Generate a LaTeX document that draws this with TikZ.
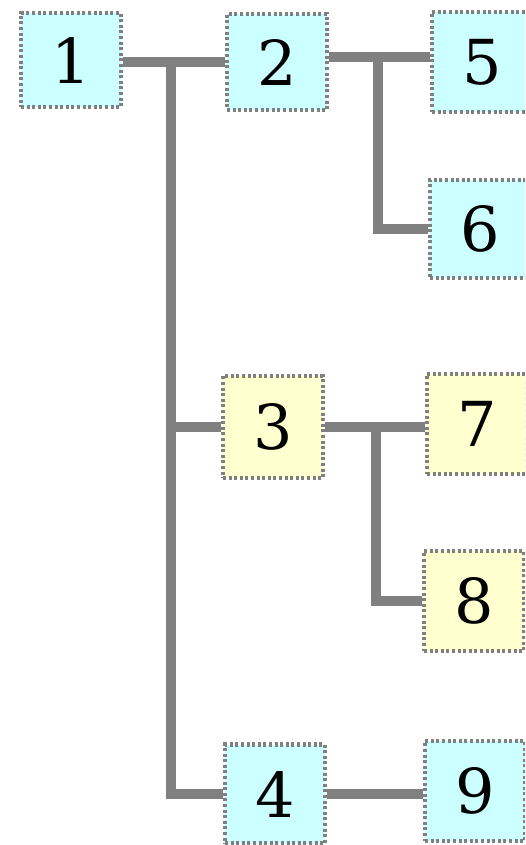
\documentclass[tikz,border=0pt]{standalone}
\usepackage{fontspec}
\setmainfont{DejaVu Serif}
\definecolor{leafcyan}{RGB}{204,255,255}
\definecolor{leafyellow}{RGB}{255,255,208}
\definecolor{linkgray}{RGB}{128,128,128}
\usepackage{tikz}
\usetikzlibrary{positioning,backgrounds}

\begin{document}
\begin{tikzpicture}[x=1pt,y=-1pt]
		\tikzstyle{numbox}=[rectangle,draw=linkgray,line width=4.5pt,
		dash pattern=on 3pt off 2.6pt,fill=leafcyan,
		minimum width=100pt,minimum height=94pt,inner sep=0pt,
		font=\fontsize{62}{62}\selectfont]
		\tikzstyle{link}=[draw=linkgray,line width=10pt]
		\useasboundingbox (0,0) rectangle (525,845);
		\clip (0,0) rectangle (525,845);
		\node[numbox] (n1) at (71,60)  {1};
		\node[numbox,minimum height=96pt] (n2) at (277,62) {2};
		\node[numbox,minimum height=100pt] (n5) at (482,62) {5};
		\node[numbox,minimum height=98pt] (n6) at (480,229) {6};
		\node[numbox,fill=leafyellow,minimum height=102pt] (n3) at (273,427) {3};
		\node[numbox,fill=leafyellow,minimum height=100pt] (n7) at (477,424) {7};
		\node[numbox,fill=leafyellow,minimum height=100pt] (n8) at (474,601) {8};
		\node[numbox,minimum height=99pt] (n4) at (275,794) {4};
		\node[numbox,minimum height=100pt] (n9) at (475,791) {9};
		% elbow points of the tree lines
		\coordinate (j1) at (171,62);
		\coordinate (j2) at (378,57);
		\coordinate (j3) at (376,427);
		\begin{scope}[on background layer]
			\draw[link] (n1.east |- j1) -- (n2.west |- j1);
			\draw[link] (j1) |- (n3.west);
			\draw[link] (j1) |- (n4.west);
			\draw[link] (n2.east |- j2) -- (n5.west |- j2);
			\draw[link] (j2) |- (n6.west);
			\draw[link] (n3.east) -- (n7.west |- j3);
			\draw[link] (j3) |- (n8.west);
			\draw[link] (n4.east) -- (n9.west |- n4.east);
		\end{scope}
	\end{tikzpicture}
\end{document}
